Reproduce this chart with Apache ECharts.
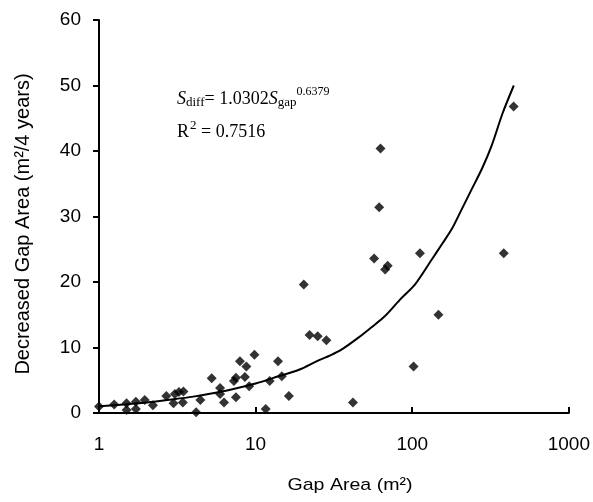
<!DOCTYPE html>
<html><head><meta charset="utf-8">
<script src="https://cdn.jsdelivr.net/npm/echarts@6/dist/echarts.min.js"></script>
<style>html,body{margin:0;padding:0;background:#fff}#c{width:593px;height:502px}</style>
</head><body><div id="c"></div>
<script>
// Observed gap area (m2) and decreased gap area (m2/4 years)
const gapArea = [1.0,1.25,1.5,1.5,1.72,1.72,1.96,2.21,2.69,2.99,3.05,3.24,3.46,3.43,4.17,4.44,5.24,5.93,5.93,6.28,7.27,7.49,7.49,7.94,8.54,8.73,9.1,9.83,11.6,12.3,13.9,14.7,16.3,20.3,22.1,24.9,28.3,41.8,57.1,61.5,62.7,67.1,69.7,102,112,147,384,444];
const decreased = [1.0,1.3,1.5,0.45,1.7,0.6,2.0,1.2,2.6,1.5,2.9,3.2,3.3,1.6,0.1,2.0,5.3,3.8,2.9,1.6,4.9,5.4,2.4,7.9,5.5,7.1,4.1,8.9,0.6,4.9,7.9,5.6,2.6,19.6,11.9,11.7,11.1,1.6,23.6,31.4,40.4,21.9,22.5,7.1,24.4,15.0,24.4,46.8];
// Fitted trend curve
const fitX = [1,1.5,2,3,4,5,7,10,14,18.9,25,30,35.5,45.3,55,67,85,104,133,155,178,205,239,280,320,378,445];
const fitY = [1.03,1.33,1.6,2.1,2.5,2.9,3.6,4.5,5.6,6.6,8.0,8.8,9.7,11.5,13.1,14.8,17.5,19.6,23.4,25.8,28,30.9,34.1,37.4,40.7,45.8,50];
const xTicks = [1,10,100,1000];

const chart = echarts.init(document.getElementById('c'));
const pts = gapArea.map((x,i)=>[x,decreased[i]]);
const fit = fitX.map((x,i)=>[x,fitY[i]]);
chart.setOption({
  animation:false,
  backgroundColor:'#fff',
  grid:{left:99,right:22,top:20,bottom:89},
  xAxis:{type:'log',logBase:10,min:1,max:1000,
    axisLine:{lineStyle:{color:'#000',width:2}},
    axisTick:{inside:true,length:6,lineStyle:{color:'#000',width:2}},
    minorTick:{show:false},
    splitLine:{show:false},
    axisLabel:{color:'#000',fontFamily:'Liberation Sans, Arial',fontSize:19,margin:22,
      formatter:v=>xTicks.includes(Math.round(v))?String(Math.round(v)):''}
  },
  yAxis:{type:'value',min:0,max:60,interval:10,
    axisLine:{show:true,lineStyle:{color:'#000',width:2}},
    axisTick:{show:true,length:6,lineStyle:{color:'#000',width:2}},
    splitLine:{show:false},
    axisLabel:{color:'#000',fontFamily:'Liberation Sans, Arial',fontSize:19,margin:18}
  },
  graphic:[
    {type:'text',x:350,y:485,scaleX:1.15,style:{text:'Gap Area (m²)',fill:'#000',font:'17px "Liberation Sans", Arial',textAlign:'center',textVerticalAlign:'middle'}},
    {type:'text',rotation:Math.PI/2,x:23,y:224,style:{text:'Decreased Gap Area (m²/4 years)',fill:'#000',font:'20px "Liberation Sans", Arial',textAlign:'center',textVerticalAlign:'middle'}},
    {type:'text',x:177,y:99,style:{rich:{
        s:{font:'italic 18px "Liberation Serif", serif',fill:'#000'},
        sub:{font:'13px "Liberation Serif", serif',fill:'#000',padding:[8,0,0,0]},
        sup:{font:'12px "Liberation Serif", serif',fill:'#000',padding:[0,0,14,0]},
        t:{font:'18px "Liberation Serif", serif',fill:'#000'}},
      text:'{s|S}{sub|diff}{t|= 1.0302}{s|S}{sub|gap}{sup|0.6379}',textVerticalAlign:'middle'}},
    {type:'text',x:177,y:132,style:{rich:{
        t:{font:'18px "Liberation Serif", serif',fill:'#000'},
        sup:{font:'13px "Liberation Serif", serif',fill:'#000',padding:[0,0,12,1]}},
      text:'{t|R}{sup|2}{t| = 0.7516}',textVerticalAlign:'middle'}}
  ],
  series:[
    {type:'line',data:fit,smooth:0.3,showSymbol:false,symbol:'none',
      lineStyle:{color:'#000',width:2},z:2},
    {type:'scatter',data:pts,symbol:'diamond',symbolSize:10,
      itemStyle:{color:'#000'},z:3}
  ]
});
</script></body></html>
